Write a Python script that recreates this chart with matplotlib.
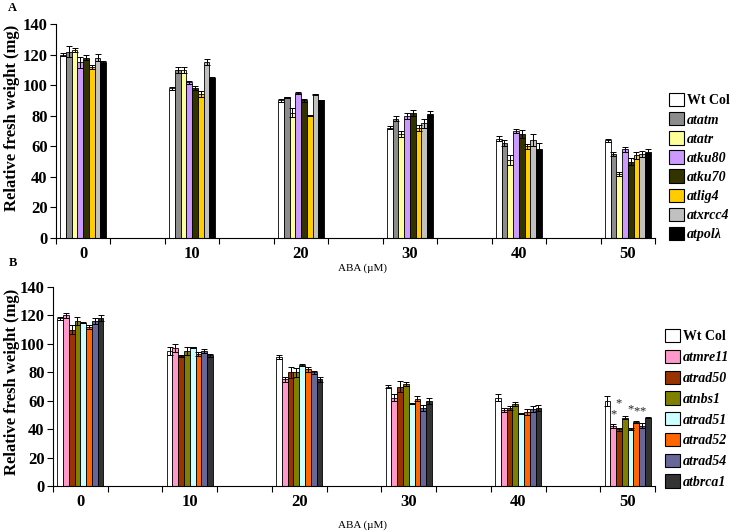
import matplotlib
matplotlib.use("Agg")
import matplotlib.pyplot as plt
import numpy as np
from matplotlib.patches import Patch

# ---------------- data ----------------
doses = ["0", "10", "20", "30", "40", "50"]

top_lines = ["Wt Col", "atatm", "atatr", "atku80", "atku70", "atlig4", "atxrcc4", "atpolλ"]
top_colors = ["#ffffff", "#8c8c8c", "#ffff99", "#cc99ff", "#333300", "#ffcc00", "#c0c0c0", "#000000"]
top_vals = [
    [120, 122, 123, 115, 118, 112, 118, 115],
    [98, 110, 110, 102, 98, 94, 115, 105],
    [90, 92, 82, 95, 90, 80, 94, 90],
    [72, 78, 68, 80, 82, 72, 75, 81],
    [65, 62, 51, 70, 68, 60, 64, 58],
    [64, 55, 42, 58, 50, 54, 55, 56],
]
top_err = [
    [1, 3.5, 1, 3.5, 1.5, 1.5, 2.5, 1],
    [1, 2, 2, 1, 1.5, 2, 2, 0.5],
    [1, 0.5, 3, 0.5, 1, 0.5, 0.5, 0.5],
    [1, 1.5, 2, 2, 2, 2, 3, 2],
    [1.5, 2, 3, 1, 2.5, 1.5, 4, 4],
    [1, 1.5, 1.5, 1.5, 2.5, 2, 2, 2],
]

bot_lines = ["Wt Col", "atmre11", "atrad50", "atnbs1", "atrad51", "atrad52", "atrad54", "atbrca1"]
bot_colors = ["#ffffff", "#ff99cc", "#993300", "#808000", "#ccffff", "#ff6600", "#666699", "#333333"]
bot_vals = [
    [118, 120, 110, 116, 115, 112, 116, 118],
    [95, 97, 91.5, 95, 97.5, 93, 95, 92],
    [91, 75, 80, 80, 85, 82, 80, 75],
    [70, 62, 70, 72, 58, 61.5, 55, 60],
    [62, 53.5, 55, 57.5, 51, 52, 54, 55],
    [60, 42, 40, 48, 40, 45, 42.5, 48],
]
bot_err = [
    [1, 2, 3, 3, 0.5, 1.5, 2, 2],
    [2.5, 3, 1, 3, 0.5, 1.5, 1.5, 1],
    [1.5, 2, 4, 3, 0.5, 2, 1, 2],
    [1, 2.5, 4, 1.5, 0.5, 1.5, 2, 2],
    [2.5, 1.5, 1.5, 1.5, 0.5, 2, 2, 2],
    [3.5, 1.5, 1, 1, 0.5, 1, 2, 0.5],
]
# significance marks at 50 uM (bar index, y value, text)
bot_stars = [(1, 46, "*"), (2, 54, "*"), (4, 49.5, "*"), (5, 48.5, "*"), (6, 48.5, "*")]

yticks = [0, 20, 40, 60, 80, 100, 120, 140]

SERIF = ["Liberation Serif", "DejaVu Serif"]
plt.rcParams["font.family"] = SERIF

fig = plt.figure(figsize=(7.32, 5.32), dpi=100)

def draw_panel(rect, vals, errs, colors, names, legend_top, legend_left, spacing, stars=None):
    ax = fig.add_axes(rect)
    n = len(names)
    group_w = 0.845
    bw = group_w / n
    vals = np.array(vals)
    errs = np.array(errs)
    slots = np.arange(len(doses)) * 2
    for j in range(n):
        xs = slots - group_w / 2 + bw * (j + 0.5)
        ax.bar(xs, vals[:, j], width=bw, color=colors[j], edgecolor="black",
               linewidth=0.6, zorder=2)
        ax.errorbar(xs, vals[:, j], yerr=errs[:, j], fmt="none", ecolor="black",
                    elinewidth=0.7, capsize=2.2, capthick=0.7, zorder=3)
    if stars:
        for j, yv, s in stars:
            x = slots[-1] - group_w / 2 + bw * (j + 0.5)
            ax.text(x, yv, s, ha="center", va="bottom", fontsize=9, color="#222222")
    ax.set_xlim(-0.5, 10.5)
    ax.set_ylim(0, 140)
    ax.set_yticks(yticks)
    ax.set_yticklabels([str(t) for t in yticks], fontsize=12, fontweight="bold")
    ax.set_xticks(np.arange(-0.5, 11, 1.0))
    ax.set_xticklabels([])
    ax.set_xticks(slots, minor=True)
    ax.set_xticklabels(doses, minor=True, fontsize=12, fontweight="bold")
    ax.tick_params(axis="x", which="minor", length=0, pad=6)
    ax.tick_params(axis="x", which="major", length=4, direction="out", width=0.8)
    ax.tick_params(axis="y", length=4, direction="out", width=0.8, pad=2)
    for s in ["top", "right"]:
        ax.spines[s].set_visible(False)
    for s in ["left", "bottom"]:
        ax.spines[s].set_linewidth(0.8)
    handles = [Patch(facecolor=c, edgecolor="black", linewidth=0.8) for c in colors]
    leg = fig.legend(handles, names, loc="upper left",
                     bbox_to_anchor=(legend_left, legend_top), frameon=False,
                     handlelength=1.05, handleheight=1.1, handletextpad=0.25,
                     labelspacing=spacing, borderpad=0, borderaxespad=0,
                     prop={"family": SERIF, "size": 10, "weight": "bold"})
    for k, t in enumerate(leg.get_texts()):
        if k > 0:
            t.set_fontstyle("italic")
    return ax

W, H = 732, 532
axA = draw_panel([56 / W, 1 - 238 / H, (655 - 56) / W, (238 - 24) / H],
                 top_vals, top_err, top_colors, top_lines,
                 1 - 93 / H, 669 / W, 0.34)
axB = draw_panel([53 / W, 1 - 486 / H, (655 - 53) / W, (486 - 287) / H],
                 bot_vals, bot_err, bot_colors, bot_lines,
                 1 - 329 / H, 665 / W, 0.46, stars=bot_stars)

fig.text(12 / W, 1 - 118 / H, "Relative fresh weight (mg)", rotation=90,
         ha="center", va="center", fontsize=12, fontweight="bold")
fig.text(12 / W, 1 - 382 / H, "Relative fresh weight (mg)", rotation=90,
         ha="center", va="center", fontsize=12, fontweight="bold")
fig.text(8 / W, 1 - 8 / H, "A", fontsize=9, fontweight="bold", ha="left", va="center")
fig.text(9 / W, 1 - 263 / H, "B", fontsize=9, fontweight="bold", ha="left", va="center")
fig.text(363 / W, 1 - 268 / H, "ABA (\u00b5M)", fontsize=8, ha="center", va="center")
fig.text(363 / W, 1 - 525 / H, "ABA (\u00b5M)", fontsize=8, ha="center", va="center")

fig.savefig("out.png", dpi=100)
